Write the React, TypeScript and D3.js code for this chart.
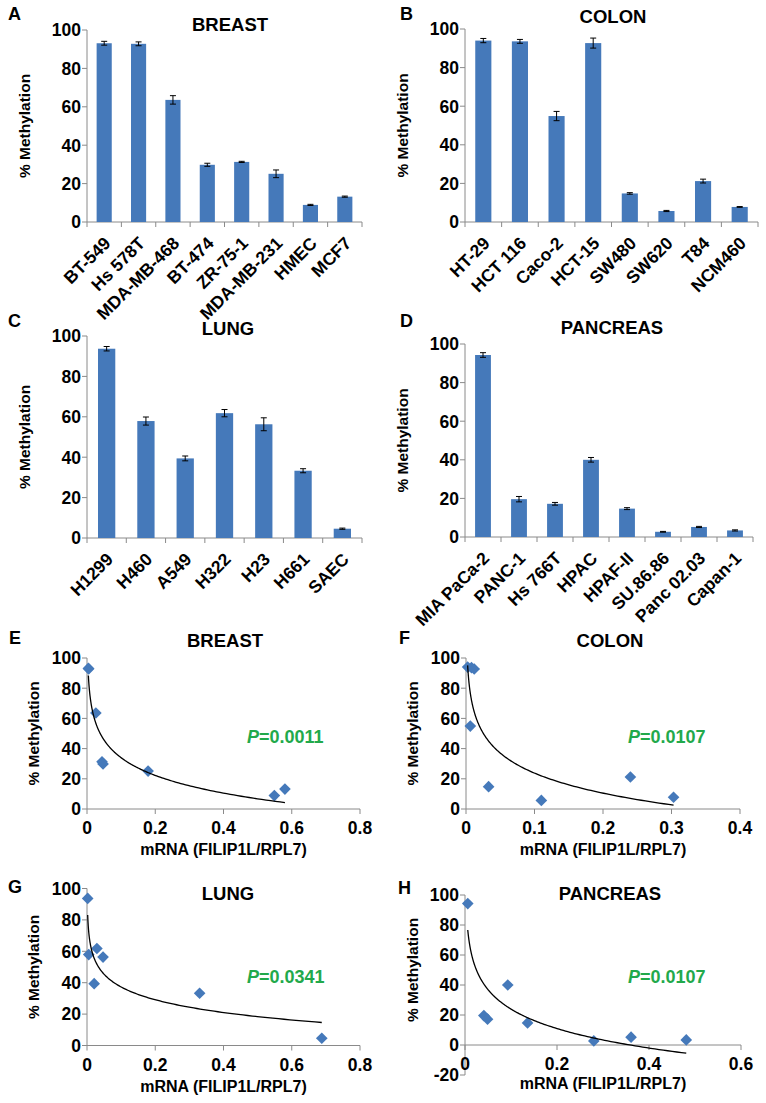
import React, { useEffect } from "react";
import * as d3 from "d3";

const W = 766;
const H = 1103;
const FONT = "'Liberation Sans', Arial, Helvetica, sans-serif";
const BLUE = "#4579ba";
const AXIS = "#8a8a8a";
const GREEN = "#22a94b";
const TICK = 17.5;

// cell lines and % methylation (bars), error bars, mRNA (scatter)
const breastLines = ["BT-549", "Hs 578T", "MDA-MB-468", "BT-474", "ZR-75-1", "MDA-MB-231", "HMEC", "MCF7"];
const breastMeth = [93.1, 92.8, 63.6, 29.8, 31.3, 25.1, 8.9, 13.2];
const breastErr = [1.0, 1.0, 2.2, 0.8, 0.3, 2.0, 0.3, 0.3];
const breastMrna = [0.004, 0.005, 0.026, 0.047, 0.044, 0.179, 0.549, 0.58];

const colonLines = ["HT-29", "HCT 116", "Caco-2", "HCT-15", "SW480", "SW620", "T84", "NCM460"];
const colonMeth = [94.0, 93.6, 54.9, 92.7, 14.8, 5.7, 21.2, 7.8];
const colonErr = [1.1, 1.0, 2.4, 2.6, 0.4, 0.3, 1.0, 0.2];
const colonMrna = [0.0024, 0.008, 0.0063, 0.012, 0.033, 0.11, 0.24, 0.303];

const lungLines = ["H1299", "H460", "A549", "H322", "H23", "H661", "SAEC"];
const lungMeth = [93.7, 57.9, 39.4, 61.8, 56.3, 33.3, 4.6];
const lungErr = [1.1, 2.0, 1.2, 1.8, 3.2, 1.0, 0.3];
const lungMrna = [0.002, 0.005, 0.021, 0.029, 0.047, 0.33, 0.688];

const pancLines = ["MIA PaCa-2", "PANC-1", "Hs 766T", "HPAC", "HPAF-II", "SU.86.86", "Panc 02.03", "Capan-1"];
const pancMeth = [94.3, 19.6, 17.2, 40.0, 14.7, 2.7, 5.2, 3.4];
const pancErr = [1.2, 1.4, 0.7, 1.2, 0.5, 0.2, 0.3, 0.3];
const pancMrna = [0.006, 0.041, 0.049, 0.093, 0.136, 0.28, 0.361, 0.481];

const pValues = ["0.0011", "0.0107", "0.0341", "0.0107"];
const yTicks = [0, 20, 40, 60, 80, 100];

// least squares fit y = a + b ln(x), like the excel log trendline
function logFit(xs: number[], ys: number[]) {
  const lx = xs.map((x) => Math.log(x));
  const mx = d3.mean(lx) as number;
  const my = d3.mean(ys) as number;
  const sxy = d3.sum(lx, (v, i) => (v - mx) * (ys[i] - my));
  const sxx = d3.sum(lx, (v) => (v - mx) * (v - mx));
  const b = sxy / sxx;
  return { a: my - b * mx, b };
}

function BarPanel(props: any) {
  const { letter, title, cats, vals, errs, x0, x1, yTop, yBot, letterXY, titleXY, labelX } = props;
  const x = d3.scaleBand().domain(cats).range([x0, x1]).paddingInner(0.56).paddingOuter(0.28);
  const step = x.step();
  const y = d3.scaleLinear().domain([0, 100]).range([yBot, yTop]);
  const bounds = d3.range(cats.length + 1).map((i) => x0 + i * step);
  return (
    <g fontFamily={FONT} fontWeight="bold">
      <text x={letterXY[0]} y={letterXY[1]} fontSize={18}>{letter}</text>
      <text x={titleXY[0]} y={titleXY[1]} fontSize={18.5} textAnchor="middle">{title}</text>
      <text transform={`translate(${labelX},${(yTop + yBot) / 2}) rotate(-90)`} fontSize={15.5} textAnchor="middle">
        % Methylation
      </text>
      {yTicks.map((t) => (
        <g key={t}>
          <line x1={x0 - 5} x2={x0} y1={y(t)} y2={y(t)} stroke={AXIS} />
          <text x={x0 - 6} y={y(t)} dy="0.36em" fontSize={TICK} textAnchor="end">{t}</text>
        </g>
      ))}
      <line x1={x0} x2={x0} y1={yTop} y2={yBot} stroke={AXIS} />
      <line x1={x0} x2={x1} y1={yBot} y2={yBot} stroke={AXIS} />
      {bounds.map((b, i) => (
        <line key={i} x1={b} x2={b} y1={yBot} y2={yBot + 5} stroke={AXIS} />
      ))}
      {cats.map((c: string, i: number) => {
        const cx = (x(c) as number) + x.bandwidth() / 2;
        return (
          <g key={c}>
            <rect x={x(c)} y={y(vals[i])} width={x.bandwidth()} height={yBot - y(vals[i])} fill={BLUE} />
            <line x1={cx} x2={cx} y1={y(vals[i] + errs[i])} y2={y(vals[i] - errs[i])} stroke="#000" />
            <line x1={cx - 3} x2={cx + 3} y1={y(vals[i] + errs[i])} y2={y(vals[i] + errs[i])} stroke="#000" />
            <line x1={cx - 3} x2={cx + 3} y1={y(vals[i] - errs[i])} y2={y(vals[i] - errs[i])} stroke="#000" />
            <text
              transform={`translate(${cx + 3},${yBot + 18}) rotate(-45)`}
              dy="0.36em"
              fontSize={TICK}
              textAnchor="end"
            >
              {c}
            </text>
          </g>
        );
      })}
    </g>
  );
}

function ScatterPanel(props: any) {
  const { letter, title, xs, ys, xMax, xTicks, yMin, x0, x1, yTop, yBot, letterXY, titleXY, pXY, p, labelX, tickY, xTitleY } = props;
  const x = d3.scaleLinear().domain([0, xMax]).range([x0, x1]);
  const y = d3.scaleLinear().domain([yMin, 100]).range([yBot, yTop]);
  const yt = d3.range(yMin, 101, 20);
  const fit = logFit(xs, ys);
  const [lo, hi] = d3.extent(xs) as [number, number];
  const curvePts = d3.range(0, 201).map((i) => lo * Math.pow(hi / lo, i / 200));
  const line = d3
    .line<number>()
    .x((v) => x(v))
    .y((v) => y(fit.a + fit.b * Math.log(v)));
  const diamond = d3.symbol().type(d3.symbolSquare).size(68)();
  const zeroY = y(0);
  return (
    <g fontFamily={FONT} fontWeight="bold">
      <text x={letterXY[0]} y={letterXY[1]} fontSize={18}>{letter}</text>
      <text x={titleXY[0]} y={titleXY[1]} fontSize={18.5} textAnchor="middle">{title}</text>
      <text transform={`translate(${labelX},${(yTop + zeroY) / 2}) rotate(-90)`} fontSize={15.5} textAnchor="middle">
        % Methylation
      </text>
      {yt.map((t) => (
        <g key={t}>
          <line x1={x0 - 5} x2={x0} y1={y(t)} y2={y(t)} stroke={AXIS} />
          <text x={x0 - 6} y={y(t)} dy="0.36em" fontSize={TICK} textAnchor="end">{t}</text>
        </g>
      ))}
      <line x1={x0} x2={x0} y1={yTop} y2={yBot} stroke={AXIS} />
      <line x1={x0} x2={x1} y1={zeroY} y2={zeroY} stroke={AXIS} />
      {xTicks.map((t: number) => (
        <g key={t}>
          <line x1={x(t)} x2={x(t)} y1={zeroY} y2={zeroY + 5} stroke={AXIS} />
          <text x={x(t)} y={tickY} fontSize={TICK} textAnchor="middle">{t === 0 ? "0" : t.toFixed(1)}</text>
        </g>
      ))}
      <text x={(x0 + x1) / 2} y={xTitleY} fontSize={16} textAnchor="middle">mRNA (FILIP1L/RPL7)</text>
      {xs.map((v: number, i: number) => (
        <path key={i} d={diamond as string} transform={`translate(${x(v)},${y(ys[i])}) rotate(45)`} fill={BLUE} />
      ))}
      <path d={line(curvePts) as string} fill="none" stroke="#000" strokeWidth={1.3} />
      <text x={pXY[0]} y={pXY[1]} fontSize={18} fill={GREEN}>
        <tspan fontStyle="italic">P</tspan>={p}
      </text>
    </g>
  );
}

export default function App() {
  useEffect(() => {
    document.body.style.margin = "0";
  }, []);
  return (
    <svg width={W} height={H} style={{ display: "block", background: "#fff" }}>
      <BarPanel letter="A" title="BREAST" cats={breastLines} vals={breastMeth} errs={breastErr}
        x0={87} x1={362} yTop={30} yBot={222} letterXY={[8, 20]} titleXY={[230, 31]} labelX={30} />
      <BarPanel letter="B" title="COLON" cats={colonLines} vals={colonMeth} errs={colonErr}
        x0={465} x1={758} yTop={29} yBot={222} letterXY={[400, 20]} titleXY={[613, 23]} labelX={408} />
      <BarPanel letter="C" title="LUNG" cats={lungLines} vals={lungMeth} errs={lungErr}
        x0={87} x1={362} yTop={336} yBot={538} letterXY={[8, 327]} titleXY={[228, 335]} labelX={30} />
      <BarPanel letter="D" title="PANCREAS" cats={pancLines} vals={pancMeth} errs={pancErr}
        x0={465} x1={753} yTop={344} yBot={537} letterXY={[400, 327]} titleXY={[612, 334]} labelX={408} />

      <ScatterPanel letter="E" title="BREAST" xs={breastMrna} ys={breastMeth} xMax={0.8} xTicks={[0, 0.2, 0.4, 0.6, 0.8]}
        yMin={0} x0={87} x1={360} yTop={658} yBot={809} letterXY={[9, 644]} titleXY={[225, 647]}
        pXY={[247, 743]} p={pValues[0]} labelX={39} tickY={834} xTitleY={855} />
      <ScatterPanel letter="F" title="COLON" xs={colonMrna} ys={colonMeth} xMax={0.4} xTicks={[0, 0.1, 0.2, 0.3, 0.4]}
        yMin={0} x0={466} x1={740} yTop={658} yBot={809} letterXY={[399, 644]} titleXY={[610, 647]}
        pXY={[628, 743]} p={pValues[1]} labelX={418} tickY={834} xTitleY={855} />
      <ScatterPanel letter="G" title="LUNG" xs={lungMrna} ys={lungMeth} xMax={0.8} xTicks={[0, 0.2, 0.4, 0.6, 0.8]}
        yMin={0} x0={87} x1={360} yTop={888.5} yBot={1045.5} letterXY={[8, 893]} titleXY={[228, 900]}
        pXY={[247, 983]} p={pValues[2]} labelX={39} tickY={1071} xTitleY={1092} />
      <ScatterPanel letter="H" title="PANCREAS" xs={pancMrna} ys={pancMeth} xMax={0.6} xTicks={[0, 0.2, 0.4, 0.6]}
        yMin={-20} x0={465} x1={741} yTop={895} yBot={1075} letterXY={[398, 894]} titleXY={[610, 900]}
        pXY={[628, 983]} p={pValues[3]} labelX={418} tickY={1070} xTitleY={1089} />
    </svg>
  );
}
